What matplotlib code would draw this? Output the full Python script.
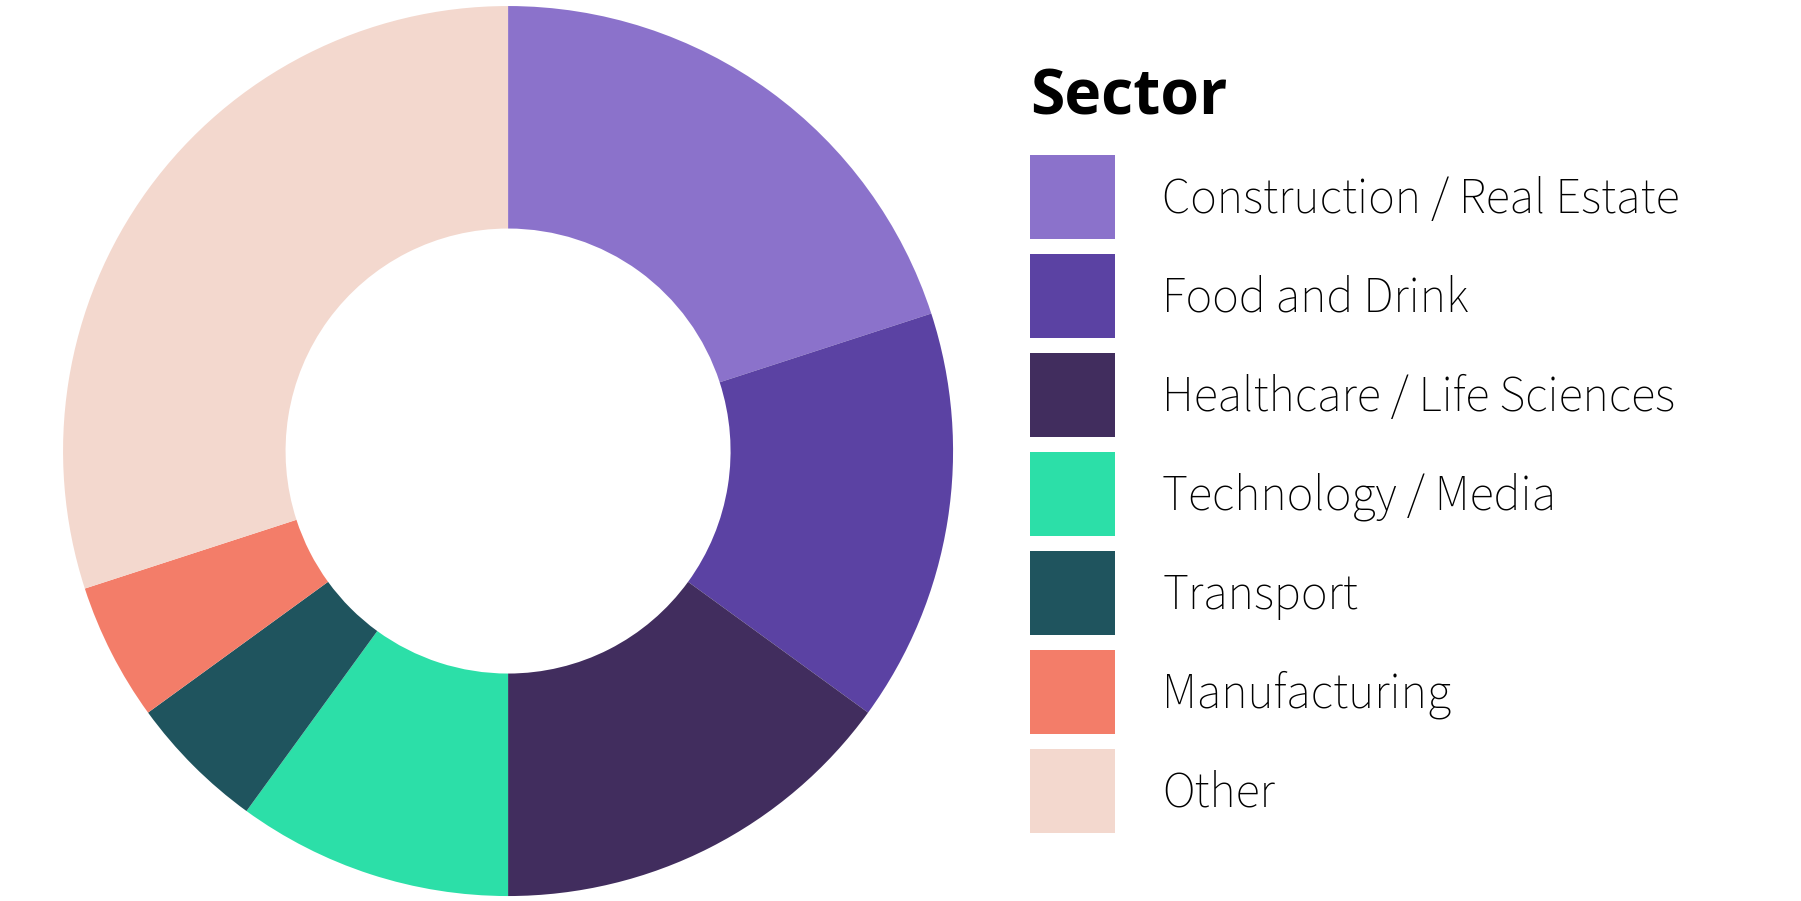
import matplotlib
matplotlib.use("Agg")
import matplotlib.pyplot as plt
from matplotlib.font_manager import FontProperties

sectors = ["Construction / Real Estate", "Food and Drink", "Healthcare / Life Sciences",
           "Technology / Media", "Transport", "Manufacturing", "Other"]
shares = [20, 15, 15, 10, 5, 5, 30]
colors = ["#8B72CB", "#5B42A3", "#412D5E", "#2CDFA8", "#1F545E", "#F37D69", "#F3D8CE"]

fams = ['Source Sans Pro', 'Source Sans 3', 'Lato', 'DejaVu Sans']
plt.rcParams['font.family'] = fams

fig = plt.figure(figsize=(18.01, 9.01), dpi=100)
ax = fig.add_axes([0.035, 0.0055, 0.4942, 0.9878])

wedges, _ = ax.pie(shares, colors=colors, startangle=90, counterclock=False,
                   wedgeprops=dict(width=0.5, linewidth=0))
ax.set_xlim(-1, 1)
ax.set_ylim(-1, 1)
ax.set_aspect('equal')
ax.axis('off')

fig.text(0.572, 0.8724, "Sector", fontsize=45, fontweight='bold', va='baseline', ha='left',
         family=['Open Sans', 'Lato', 'DejaVu Sans'])

fs = 36
lab_prop = FontProperties(family=fams, weight='normal', size=fs)
# patch box 61pt wide, 60.5pt tall (legend shaves some height off handleheight)
leg = fig.legend(wedges, sectors, loc='upper left', bbox_to_anchor=(0.572, 0.828),
                 frameon=False, prop=lab_prop,
                 handlelength=61.2 / fs, handleheight=(60.5 / fs - 0.245) / 0.65,
                 handletextpad=33.8 / fs, labelspacing=10.8 / fs,
                 borderpad=0, borderaxespad=0)

fig.savefig("out.png", dpi=100, facecolor='white')
